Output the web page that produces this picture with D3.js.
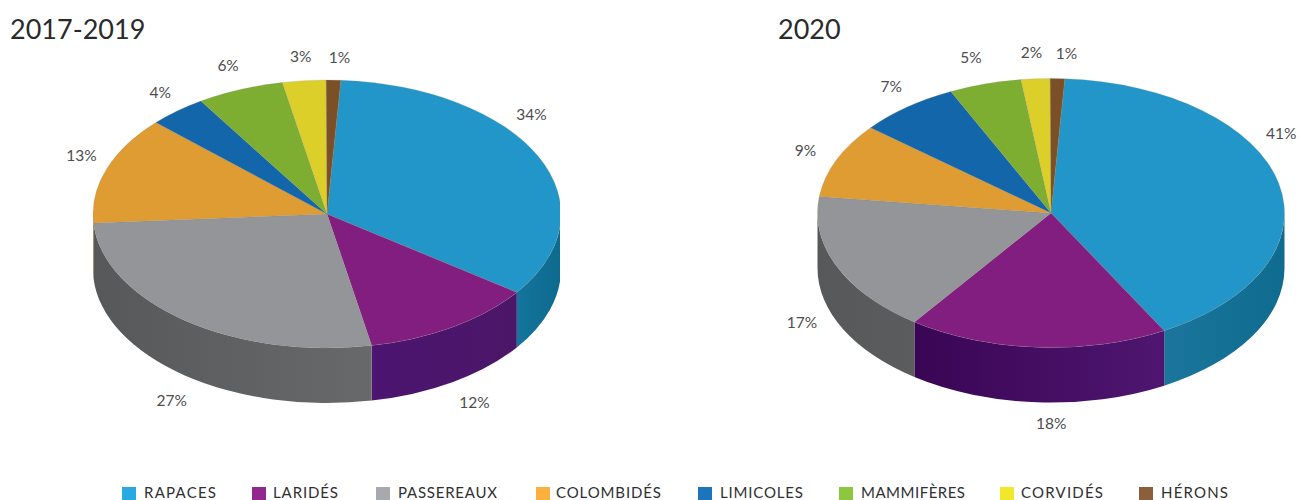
<!DOCTYPE html>
<html lang="fr">
<head>
<meta charset="utf-8">
<title>Répartition des espèces</title>
<script src="https://cdn.jsdelivr.net/npm/d3@7/dist/d3.min.js"></script>
<style>
  html, body { margin: 0; padding: 0; background: #fff; }
  svg { display: block; font-family: Lato, "Open Sans", sans-serif; }
</style>
</head>
<body>
<svg id="chart" width="1299" height="500"></svg>
<script>
// Species groups, in drawing order (clockwise from just right of twelve o'clock)
const categories = ["RAPACES", "LARIDÉS", "PASSEREAUX", "COLOMBIDÉS", "LIMICOLES", "MAMMIFÈRES", "CORVIDÉS", "HÉRONS"];
const values2017 = [34, 12, 27, 13, 4, 6, 3, 1];
const values2020 = [41, 18, 17, 9, 7, 5, 2, 1];
const titles = ["2017-2019", "2020"];

// Palette
const topColors = ["#2296c9", "#821e7f", "#939598", "#df9c33", "#1366a9", "#7dae32", "#ddcf2a", "#7c5027"];
const legendColors = ["#27aae1", "#92278f", "#a7a9ac", "#fbb040", "#1c75bc", "#8dc63f", "#f1e82b", "#8b5e3c"];
const wallShades2017 = [["#14749b", "#0e6a8f"], ["#4b1570", "#4c1668"], ["#57585a", "#68696b"]];
const wallShades2020 = [["#1b759c", "#0f6b90"], ["#3b0555", "#4e1670"], ["#57585a", "#5b5c5e"]];

// Label nudges away from each slice's rim point
const nudges2017 = [[-7, -42], [21.5, 75.6], [-12.5, 80], [-25, -14], [-17, -19], [-12, -24], [-3.5, -24], [6, -23]];
const nudges2020 = [[2.5, -50], [14, 76], [-35, 56], [-31, -10], [-16, -21], [-14, -26], [-4, -26], [9, -25.5]];

// Legend layout
const legendSwatchX = [122, 252, 376, 536, 698, 839, 1000, 1139];
const legendTextX = [144, 273, 398, 556, 720, 861, 1021, 1161];
const legendTextEnd = [216, 338, 497, 661, 803, 965, 1103, 1228];

const svg = d3.select("#chart");
const defs = svg.append("defs");

const START = 3.4 * Math.PI / 180;
const pieLayout = d3.pie().sort(null).startAngle(START).endAngle(START + 2 * Math.PI);

const charts = [
  { id: "a", values: values2017, shades: wallShades2017, nudges: nudges2017, title: titles[0], titleX: 10,
    cx: 327, cy: 214, rx: 234, ry: 134, depth: 55, clipRight: 560 },
  { id: "b", values: values2020, shades: wallShades2020, nudges: nudges2020, title: titles[1], titleX: 778,
    cx: 1051, cy: 213, rx: 233.5, ry: 134.5, depth: 55, clipRight: 1299 }
];

charts.forEach(c => {
  const arcs = pieLayout(c.values);
  const px = a => c.cx + c.rx * Math.sin(a);
  const py = a => c.cy - c.ry * Math.cos(a);

  defs.append("clipPath").attr("id", "clip-" + c.id)
    .append("rect").attr("x", 0).attr("y", 0).attr("width", c.clipRight).attr("height", 500);

  const g = svg.append("g").attr("clip-path", `url(#clip-${c.id})`);

  // Side wall: only the front half of the rim is visible
  const walls = arcs.map((d, i) => {
    const a0 = Math.max(d.startAngle, Math.PI / 2);
    const a1 = Math.min(d.endAngle, 3 * Math.PI / 2);
    return { i, a0, a1 };
  }).filter(w => w.a1 > w.a0);

  walls.forEach(w => {
    const base = d3.color(topColors[w.i]).darker(0.8).formatHex();
    const shade = c.shades[w.i] || [base, base];
    const gid = `wall-${c.id}-${w.i}`;
    // The gradient always runs left to right across the wall
    const grad = defs.append("linearGradient").attr("id", gid)
      .attr("gradientUnits", "userSpaceOnUse")
      .attr("x1", Math.min(px(w.a0), px(w.a1))).attr("x2", Math.max(px(w.a0), px(w.a1)))
      .attr("y1", 0).attr("y2", 0);
    grad.append("stop").attr("offset", 0).attr("stop-color", shade[0]);
    grad.append("stop").attr("offset", 1).attr("stop-color", shade[1]);

    const p = `M${px(w.a0)},${py(w.a0)}`
      + `A${c.rx},${c.ry} 0 0 1 ${px(w.a1)},${py(w.a1)}`
      + `L${px(w.a1)},${py(w.a1) + c.depth}`
      + `A${c.rx},${c.ry} 0 0 0 ${px(w.a0)},${py(w.a0) + c.depth}Z`;
    g.append("path").attr("d", p).attr("fill", `url(#${gid})`);
  });

  // Top face: a circular pie squashed into an ellipse
  const arc = d3.arc().innerRadius(0).outerRadius(c.rx);
  g.append("g")
    .attr("transform", `translate(${c.cx},${c.cy}) scale(1,${c.ry / c.rx})`)
    .selectAll("path").data(arcs).join("path")
    .attr("d", arc)
    .attr("fill", (d, i) => topColors[i])
    .attr("stroke", "#8a8a7a").attr("stroke-opacity", 0.35).attr("stroke-width", 0.6)
    .attr("vector-effect", "non-scaling-stroke");

  // Percent labels
  svg.append("g").selectAll("text").data(arcs).join("text")
    .attr("x", (d, i) => px((d.startAngle + d.endAngle) / 2) + c.nudges[i][0])
    .attr("y", (d, i) => py((d.startAngle + d.endAngle) / 2) + c.nudges[i][1] + 5.5)
    .attr("text-anchor", "middle")
    .attr("font-size", 15.5)
    .attr("fill", "#4d4d4f")
    .text(d => d.value + "%");

  // Panel title
  svg.append("text")
    .attr("x", c.titleX).attr("y", 39)
    .attr("font-size", 27)
    .attr("fill", "#2a2a2c")
    .text(c.title);
});

// Legend along the bottom edge
const legend = svg.append("g").selectAll("g").data(categories).join("g");
legend.append("rect")
  .attr("x", (d, i) => legendSwatchX[i]).attr("y", 487)
  .attr("width", 14).attr("height", 13)
  .attr("fill", (d, i) => legendColors[i]);
legend.append("text")
  .attr("x", (d, i) => legendTextX[i]).attr("y", 498)
  .attr("font-size", 15)
  .attr("textLength", (d, i) => legendTextEnd[i] - legendTextX[i])
  .attr("lengthAdjust", "spacing")
  .attr("fill", "#2f2f33")
  .text(d => d);
</script>
</body>
</html>
